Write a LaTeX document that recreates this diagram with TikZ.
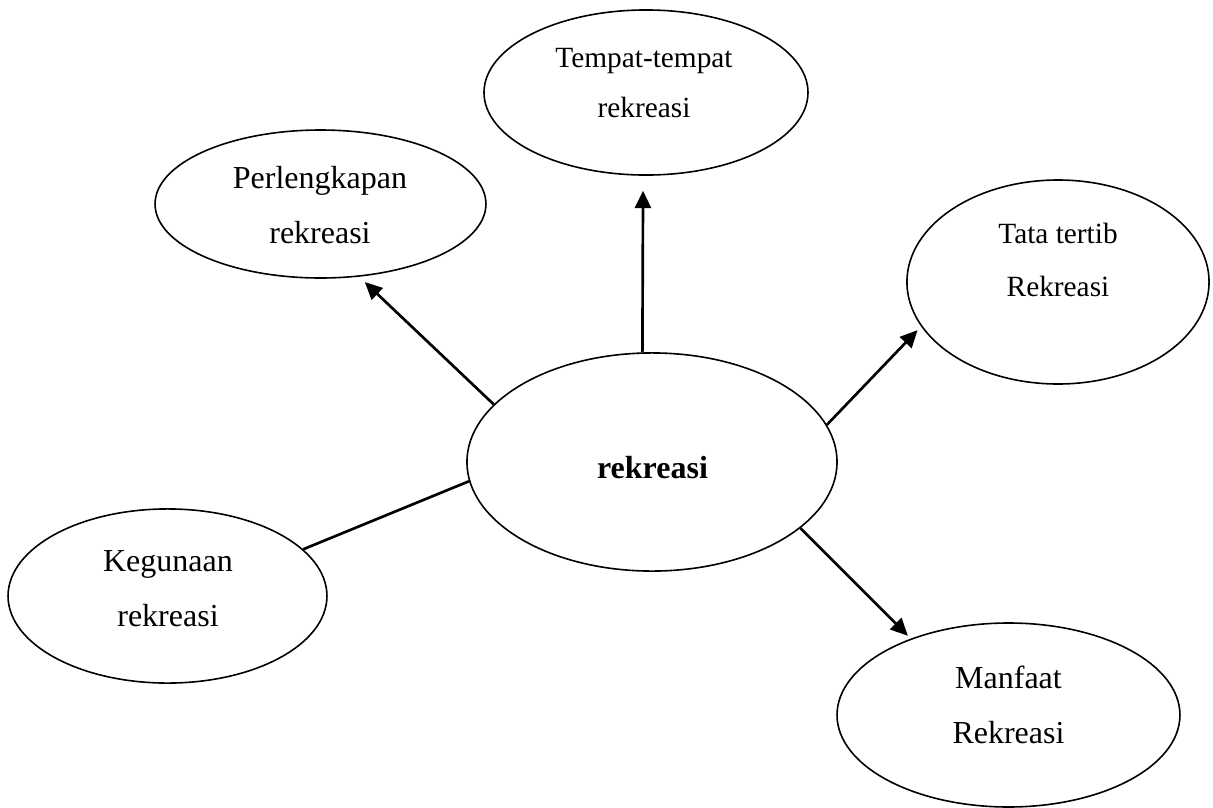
\documentclass[tikz,border=0pt]{standalone}
\usepackage{fontspec}
\setmainfont{Liberation Serif}
\usetikzlibrary{shapes.geometric,arrows.meta}

\begin{document}
\begin{tikzpicture}[x=0.375pt, y=-0.375pt]
\tikzset{
  bubble/.style={draw, ellipse, line width=0.6pt, inner sep=0pt},
  bubbletext/.style={align=center, inner sep=0pt, font=\fontsize{12}{20.6}\selectfont},
  smalltext/.style={align=center, inner sep=0pt, font=\fontsize{11}{18.8}\selectfont},
  link/.style={line width=1pt},
  pointer/.style={link, -{Triangle[length=6.5pt,width=6pt]}}
}
\useasboundingbox (0,0) rectangle (1213,808);

% ellipses
\node[bubble, minimum width=138.8pt, minimum height=81.8pt] (rek) at (652,462) {};
\node[bubble, minimum width=121.5pt, minimum height=61.9pt] (temp) at (646,92.5) {};
\node[bubble, minimum width=124.1pt, minimum height=55.5pt] (perl) at (320.5,204) {};
\node[bubble, minimum width=113.3pt, minimum height=76.5pt] (tata) at (1058,282) {};
\node[bubble, minimum width=119.6pt, minimum height=65.3pt] (keg) at (167.5,596) {};
\node[bubble, minimum width=128.6pt, minimum height=69pt] (manf) at (1008.5,715) {};

% texts
\node[font=\fontsize{12}{14}\selectfont\bfseries, anchor=base] (rektext) at (652.5,478) {rekreasi};
\node[smalltext] (temptext) at (644,83) {Tempat-tempat\\rekreasi};
\node[bubbletext] (perltext) at (320,205.5) {Perlengkapan\\rekreasi};
\node[smalltext, font=\fontsize{11}{19.9}\selectfont] (tatatext) at (1058,260) {Tata tertib\\Rekreasi};
\node[bubbletext] (kegtext) at (168,588.5) {Kegunaan\\rekreasi};
\node[bubbletext] (manftext) at (1008.5,704.5) {Manfaat\\Rekreasi};

% connectors
\draw[pointer, shorten >=5.6pt] (rek.95.6) -- (temp.268.2);
\draw[pointer, shorten >=2.9pt] (rek.160.7) -- (perl.-62.3);
\draw[pointer, shorten >=1.9pt] (rek.12.9) -- (tata.198.6);
\draw[pointer, shorten >=1.5pt] (rek.-24.8) -- (manf.142.5);
\draw[link] (rek.186.2) -- (keg.19.5);
\end{tikzpicture}
\end{document}
